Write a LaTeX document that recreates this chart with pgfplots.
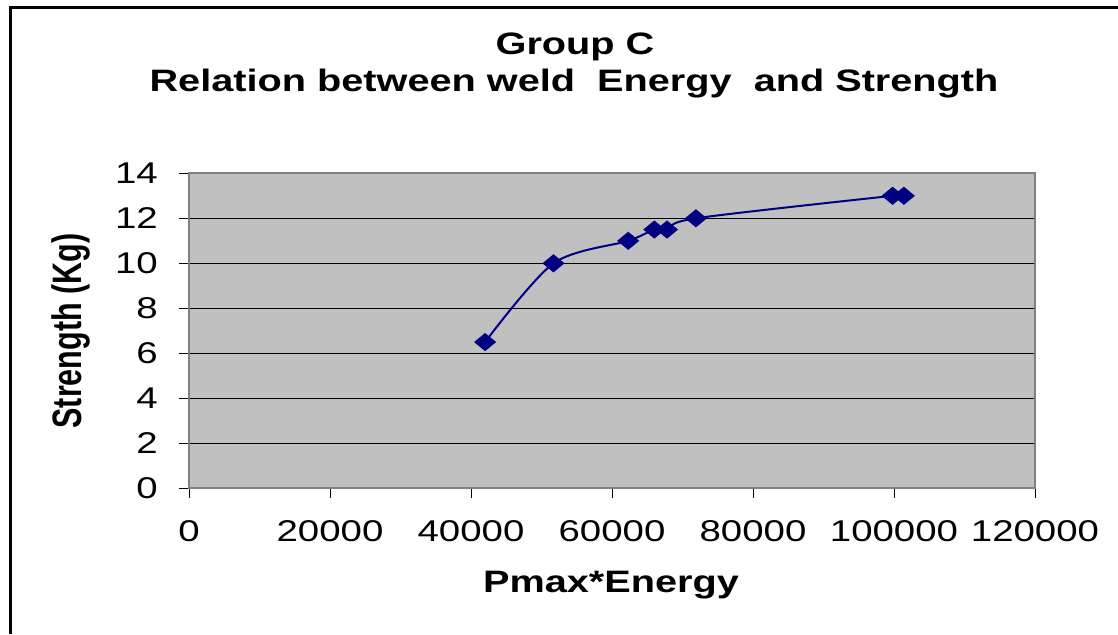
\documentclass[border=0pt]{standalone}
\usepackage{pgfplots}
\pgfplotsset{compat=1.18}
\usepackage{fontspec}
\setmainfont[FakeStretch=1.28]{Liberation Sans}
\newfontfamily\yfont{Liberation Sans}
\definecolor{plotgray}{HTML}{C0C0C0}
\definecolor{bordergray}{HTML}{808080}
\definecolor{navy}{HTML}{000080}
\begin{document}
\begin{tikzpicture}[x=1pt,y=1pt]
\path[use as bounding box] (0,0) rectangle (1118,-634);
% outer chart frame
\draw[black, line width=3pt] (10.5,-634) -- (10.5,-7.5) -- (1118,-7.5);
\begin{axis}[
  at={(189pt,-488.3pt)}, anchor=south west,
  scale only axis, width=846pt, height=315pt,
  xmin=0, xmax=120000, ymin=0, ymax=14,
  xtick={0,20000,40000,60000,80000,100000,120000},
  xticklabels={0,20000,40000,60000,80000,100000,120000},
  ytick={0,2,4,6,8,10,12,14},
  yticklabels={0,2,4,6,8,10,12,14},
  scaled x ticks=false,
  axis background/.style={fill=plotgray},
  axis line style={bordergray, line width=2pt},
  ymajorgrids, major grid style={black, line width=1pt},
  tick align=outside, major tick length=10pt,
  tick style={black, line width=1pt},
  xtick pos=bottom, ytick pos=left,
  tick label style={font=\fontsize{30}{36}\selectfont, inner sep=0pt},
  yticklabel style={anchor=east, xshift=-21pt},
  xticklabel style={anchor=north, yshift=-22pt},
  clip=false,
]
\addplot[navy, line width=2pt, smooth, mark=diamond*, mark size=7.8pt,
  mark options={xscale=1.62, fill=navy, draw=navy}] coordinates {
  (42000,6.5) (51700,10) (62300,11) (66000,11.5) (67800,11.5)
  (71900,12) (99800,13) (101400,13)
};
\end{axis}
\node[font=\bfseries\fontsize{31}{37}\selectfont, inner sep=0pt] at (575,-47) {Group C};
\node[font=\bfseries\fontsize{31}{37}\selectfont, inner sep=0pt] at (574,-84) {Relation between weld\ \ Energy\ \ and Strength};
\node[font=\bfseries\fontsize{31}{37}\selectfont, inner sep=0pt] at (611,-585) {Pmax*Energy};
\node[rotate=90, inner sep=0pt] at (71,-331) {\scalebox{1}[1.35]{\yfont\bfseries\fontsize{30.5}{36}\selectfont Strength (Kg)}};
\end{tikzpicture}
\end{document}
